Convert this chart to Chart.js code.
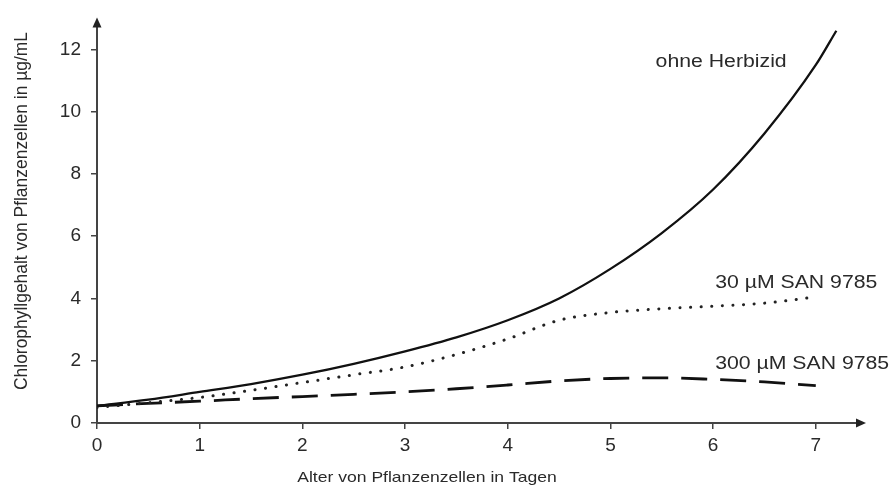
<!DOCTYPE html>
<html>
<head>
<meta charset="utf-8">
<script src="https://cdn.jsdelivr.net/npm/chart.js@4.4.1/dist/chart.umd.min.js"></script>
<style>
  html, body { margin: 0; padding: 0; background: #fff; }
  #wrap { width: 896px; height: 491px; }
</style>
</head>
<body>
<div id="wrap"><canvas id="myChart"></canvas></div>
<script>
// Sample data
var days = [0, 0.5, 1, 1.5, 2, 2.5, 3, 3.5, 4, 4.5, 5, 5.5, 6, 6.5, 7];
var daysOhne = [0, 0.5, 1, 1.5, 2, 2.5, 3, 3.5, 4, 4.5, 5, 5.5, 6, 6.5, 7, 7.2];
var ohneHerbizid = [0.55, 0.75, 1.0, 1.25, 1.55, 1.9, 2.3, 2.75, 3.3, 4.0, 4.95, 6.1, 7.5, 9.3, 11.5, 12.6];
var san30 = [0.5, 0.65, 0.82, 1.05, 1.3, 1.55, 1.8, 2.2, 2.7, 3.3, 3.55, 3.67, 3.75, 3.85, 4.05];
var san300 = [0.55, 0.63, 0.7, 0.78, 0.85, 0.92, 1.0, 1.1, 1.22, 1.35, 1.43, 1.45, 1.4, 1.32, 1.2];

// Curve labels (text and where they sit, in data units)
var labelTexts = ["ohne Herbizid", "30 µM SAN 9785", "300 µM SAN 9785"];
var labelX = [5.44, 6.02, 6.02];
var labelY = [11.6, 4.5, 1.9];

var xTitle = 'Alter von Pflanzenzellen in Tagen';
var yTitle = 'Chlorophyllgehalt von Pflanzenzellen in µg/mL';
var fontFamily = '"Liberation Sans", Arial, sans-serif';

function toPoints(xs, ys) {
    return ys.map(function (v, i) { return { x: xs[i], y: v }; });
}

var textColor = '#2a2a2a';
var axisColor = '#444';

// Draws the arrow heads, the axis titles and the curve labels
var extras = {
    id: 'extras',
    afterDraw: function (chart) {
        var ctx = chart.ctx;
        var area = chart.chartArea;
        var xs = chart.scales.x, ys = chart.scales.y;
        var y0 = ys.getPixelForValue(0);
        var x0 = xs.getPixelForValue(0);
        ctx.save();
        ctx.fillStyle = '#222';
        // x arrow
        ctx.beginPath();
        ctx.moveTo(area.right + 4, y0);
        ctx.lineTo(area.right - 6, y0 - 4.5);
        ctx.lineTo(area.right - 6, y0 + 4.5);
        ctx.closePath();
        ctx.fill();
        // y arrow
        ctx.beginPath();
        ctx.moveTo(x0, area.top - 4);
        ctx.lineTo(x0 - 4.5, area.top + 6);
        ctx.lineTo(x0 + 4.5, area.top + 6);
        ctx.closePath();
        ctx.fill();

        ctx.fillStyle = textColor;
        ctx.textBaseline = 'middle';
        ctx.textAlign = 'center';

        // x axis title
        ctx.font = '15px ' + fontFamily;
        ctx.save();
        ctx.translate(427, 478);
        ctx.scale(1.17, 1);
        ctx.fillText(xTitle, 0, 0);
        ctx.restore();

        // y axis title (rotated, stretched across its thickness)
        ctx.save();
        ctx.translate(22, 211);
        ctx.rotate(-Math.PI / 2);
        ctx.scale(1, 1.17);
        ctx.font = '15.3px ' + fontFamily;
        ctx.scale(1.14, 1);
        ctx.fillText(yTitle, 0, 0);
        ctx.restore();

        ctx.font = '18px ' + fontFamily;
        ctx.textAlign = 'left';
        labelTexts.forEach(function (t, i) {
            ctx.save();
            ctx.translate(xs.getPixelForValue(labelX[i]), ys.getPixelForValue(labelY[i]));
            ctx.scale(1.18, 1);
            ctx.fillText(t, 0, 0);
            ctx.restore();
        });
        ctx.restore();
    }
};

var data = {
    datasets: [{
        label: "ohne Herbizid",
        data: toPoints(daysOhne, ohneHerbizid),
        borderColor: '#111',
        borderWidth: 2.3
    },
    {
        label: "30 µM SAN 9785",
        data: toPoints(days, san30),
        borderColor: '#222',
        borderWidth: 3,
        borderDash: [0.1, 10.5],
        borderCapStyle: 'round'
    },
    {
        label: "300 µM SAN 9785",
        data: toPoints(days, san300),
        borderColor: '#111',
        borderWidth: 2.8,
        borderDash: [26, 13]
    }]
};

var options = {
    responsive: true,
    maintainAspectRatio: false,
    animation: false,
    layout: { padding: { top: 14, right: 34, left: 0, bottom: 0 } },
    elements: {
        point: { radius: 0 },
        line: { cubicInterpolationMode: 'monotone', fill: false }
    },
    plugins: { legend: { display: false }, tooltip: { enabled: false } },
    scales: {
        x: {
            type: 'linear',
            min: 0,
            max: 7.45,
            afterFit: function (s) { s.height = 68; },
            border: { display: true, color: axisColor, width: 2 },
            grid: { drawOnChartArea: false, drawTicks: true, tickLength: 6, color: axisColor, lineWidth: 1.5 },
            ticks: {
                stepSize: 1,
                includeBounds: false,
                padding: 5,
                color: textColor,
                font: { family: fontFamily, size: 19 }
            }
        },
        y: {
            min: 0,
            max: 12.9,
            afterFit: function (s) { s.width = 97; },
            border: { display: true, color: axisColor, width: 2 },
            grid: { drawOnChartArea: false, drawTicks: true, tickLength: 6, color: axisColor, lineWidth: 1.5 },
            ticks: {
                stepSize: 2,
                includeBounds: false,
                padding: 10,
                color: textColor,
                font: { family: fontFamily, size: 19 }
            }
        }
    }
};

// Create the chart
var ctx = document.getElementById('myChart').getContext('2d');
var myChart = new Chart(ctx, {
    type: 'line',
    data: data,
    options: options,
    plugins: [extras]
});
</script>
</body>
</html>
